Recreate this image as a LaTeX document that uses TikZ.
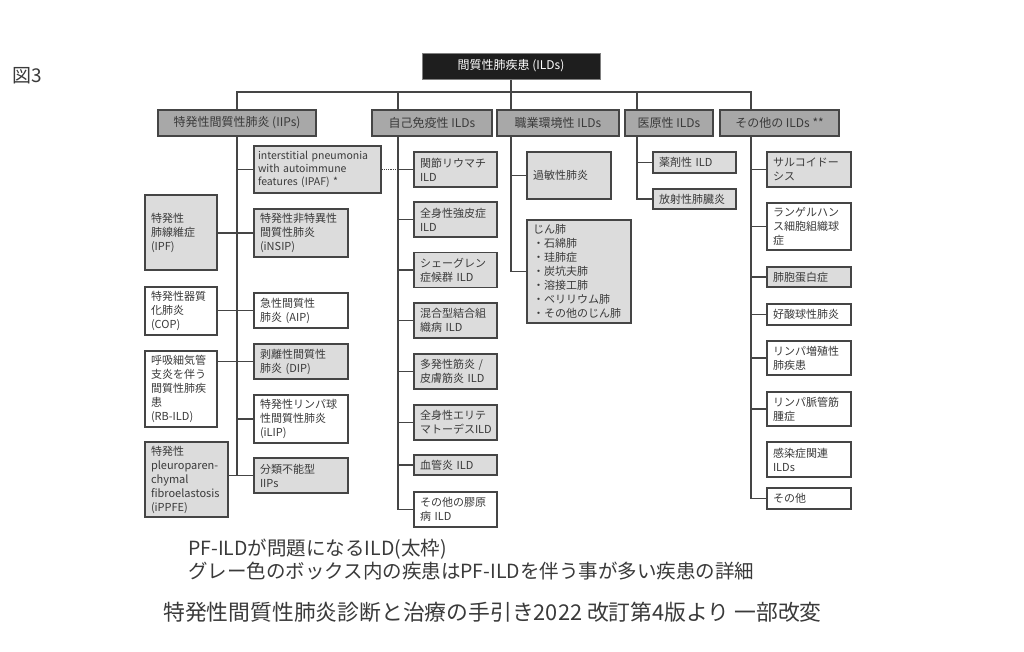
\documentclass[tikz,border=0pt]{standalone}
\usepackage{fontspec}
\setmainfont{Noto Sans CJK JP}
\usetikzlibrary{calc}
\definecolor{ink}{HTML}{3A3A3A}
\definecolor{linegray}{HTML}{454545}
\definecolor{boxgray}{HTML}{DCDCDC}
\definecolor{catgray}{HTML}{A8A8A8}
\definecolor{topblack}{HTML}{1E1E1E}

\begin{document}
\begin{tikzpicture}[x=1pt,y=-1pt,
    conn/.style={draw=linegray,line width=1.2pt},
    topbox/.style={draw=gray,line width=1pt,fill=topblack,text=white,minimum height=26pt,inner sep=0pt,font=\fontsize{12}{14}\selectfont},
    catbox/.style={draw=linegray,line width=2.4pt,fill=catgray,text=ink,minimum height=26pt,inner sep=0pt,font=\fontsize{12}{14}\selectfont},
    leaf/.style={draw=linegray,line width=1.1pt,fill=white,text=ink,align=left,inner xsep=6pt,inner ysep=0pt,text width=#1pt,font=\fontsize{11}{14}\selectfont},
    gleaf/.style={leaf=#1,fill=boxgray},
    note/.style={anchor=west,text=ink,inner sep=0pt}]
            \useasboundingbox (0,0) rectangle (1024,651);
            \node[topbox,minimum width=178pt] (ILDs) at (511,66) {間質性肺疾患 (ILDs)};
            \node[catbox,minimum width=158pt] (IIPs) at (237,123) {特発性間質性肺炎 (IIPs)};
            \node[catbox,minimum width=120pt] (AutoILD) at (432,123) {自己免疫性 ILDs};
            \node[catbox,minimum width=122pt] (OccILD) at (558,123) {職業環境性 ILDs};
            \node[catbox,minimum width=88pt] (IatroILD) at (669,123) {医原性 ILDs};
            \node[catbox,minimum width=119pt] (OtherILD) at (779.5,123) {その他の ILDs **};
            \coordinate (BusIIPs) at (237,92);
            \coordinate (BusAuto) at (398,92);
            \coordinate (BusOcc) at (511,92);
            \coordinate (BusIatro) at (637,92);
            \coordinate (BusOther) at (751,92);
            \node[gleaf=119,inner xsep=4pt,minimum height=47pt,font=\fontsize{10.5}{13}\selectfont] (IPAF) at (317.5,169.5) {interstitial pneumonia\\with autoimmune\\features (IPAF) *};
            \node[gleaf=82,minimum height=48pt] (INSIP) at (301,233) {特発性非特異性\\間質性肺炎\\(iNSIP)};
            \node[leaf=82,minimum height=35pt] (AIP) at (301,310.5) {急性間質性\\肺炎 (AIP)};
            \node[gleaf=82,minimum height=35pt] (DIP) at (301,361.5) {剥離性間質性\\肺炎 (DIP)};
            \node[leaf=82,minimum height=48pt] (ILIP) at (301,419) {特発性リンパ球\\性間質性肺炎\\(iLIP)};
            \node[gleaf=82,minimum height=35pt] (UncIIPs) at (301,475.5) {分類不能型\\IIPs};
            \node[gleaf=60,minimum height=75pt] (IPF) at (181,232.5) {特発性\\肺線維症\\(IPF)};
            \node[leaf=60,minimum height=48pt] (COP) at (181,311) {特発性器質\\化肺炎\\(COP)};
            \node[leaf=60,minimum height=76pt] (RBILD) at (181,389) {呼吸細気管\\支炎を伴う\\間質性肺疾\\患\\(RB-ILD)};
            \node[gleaf=71,minimum height=75pt] (IPPFE) at (186.5,479.5) {特発性\\pleuroparen-\\chymal\\fibroelastosis\\(iPPFE)};
            \node[gleaf=71,minimum height=35pt] (RAILD) at (455.5,169.5) {関節リウマチ\\ILD};
            \node[gleaf=71,minimum height=35pt] (SScILD) at (455.5,219.5) {全身性強皮症\\ILD};
            \node[gleaf=71,minimum height=35pt] (SjSILD) at (455.5,270) {シェーグレン\\症候群 ILD};
            \node[gleaf=71,minimum height=35pt] (MCTDILD) at (455.5,320.5) {混合型結合組\\織病 ILD};
            \node[gleaf=71,minimum height=35pt] (PMDMILD) at (455.5,371.5) {多発性筋炎 /\\皮膚筋炎 ILD};
            \node[gleaf=71,minimum height=35pt] (SLEILD) at (455.5,422.5) {全身性エリテ\\マトーデスILD};
            \node[gleaf=71,minimum height=20pt] (VasILD) at (455.5,465) {血管炎 ILD};
            \node[leaf=71,minimum height=35pt] (CTDILD) at (455.5,509.5) {その他の膠原\\病 ILD};
            \node[gleaf=72,minimum height=47pt] (HP) at (569,175.5) {過敏性肺炎};
            \node[gleaf=92,minimum height=103pt] (Pneumo) at (579,271.5) {じん肺\\・石綿肺\\・珪肺症\\・炭坑夫肺\\・溶接工肺\\・ベリリウム肺\\・その他のじん肺};
            \node[gleaf=71,minimum height=21pt] (DrugILD) at (694.5,162.5) {薬剤性 ILD};
            \node[gleaf=71,minimum height=20pt] (RadPn) at (694.5,199) {放射性肺臓炎};
            \node[gleaf=72,minimum height=35pt] (Sarc) at (809,169.5) {サルコイドー\\シス};
            \node[leaf=72,minimum height=47pt] (LCH) at (809,226.5) {ランゲルハン\\ス細胞組織球\\症};
            \node[gleaf=72,minimum height=20pt] (PAP) at (809,277) {肺胞蛋白症};
            \node[leaf=72,minimum height=21pt] (EosPn) at (809,314.5) {好酸球性肺炎};
            \node[leaf=72,minimum height=34pt] (LPD) at (809,358) {リンパ増殖性\\肺疾患};
            \node[leaf=72,minimum height=34pt] (LAM) at (809,409) {リンパ脈管筋\\腫症};
            \node[leaf=72,minimum height=35pt] (InfILD) at (809,459.5) {感染症関連\\ILDs};
            \node[leaf=72,minimum height=21pt] (OtherEtc) at (809,498.5) {その他};
            \draw[conn] (ILDs.south) -- (ILDs.south |- OccILD.north);
            \draw[conn] (IIPs.north) -- (BusIIPs) -- (BusOther) -- (BusOther |- OtherILD.north);
            \draw[conn] (BusAuto) -- (BusAuto |- AutoILD.north);
            \draw[conn] (BusIatro) -- (BusIatro |- IatroILD.north);
            \draw[conn] (IIPs.south) -- (IIPs.south |- UncIIPs.west);
            \draw[conn] (IIPs.south |- IPAF.west) -- (IPAF.west);
            \draw[conn] (IPF.east |- INSIP.west) -- (INSIP.west);
            \draw[conn] (COP.east |- AIP.west) -- (AIP.west);
            \draw[conn] (RBILD.east |- DIP.west) -- (DIP.west);
            \draw[conn] (IIPs.south |- ILIP.west) -- (ILIP.west);
            \draw[conn] (IPPFE.east |- UncIIPs.west) -- (UncIIPs.west);
            \draw[conn,densely dotted] (IPAF.east) -- (IPAF.east -| BusAuto);
            \draw[conn] (AutoILD.south -| BusAuto) |- (CTDILD.west);
            \draw[conn] (RAILD.west -| BusAuto) -- (RAILD.west);
            \draw[conn] (SScILD.west -| BusAuto) -- (SScILD.west);
            \draw[conn] (SjSILD.west -| BusAuto) -- (SjSILD.west);
            \draw[conn] (MCTDILD.west -| BusAuto) -- (MCTDILD.west);
            \draw[conn] (PMDMILD.west -| BusAuto) -- (PMDMILD.west);
            \draw[conn] (SLEILD.west -| BusAuto) -- (SLEILD.west);
            \draw[conn] (VasILD.west -| BusAuto) -- (VasILD.west);
            \draw[conn] (OccILD.south -| BusOcc) |- (Pneumo.west);
            \draw[conn] (HP.west -| BusOcc) -- (HP.west);
            \draw[conn] (IatroILD.south -| BusIatro) |- (RadPn.west);
            \draw[conn] (DrugILD.west -| BusIatro) -- (DrugILD.west);
            \draw[conn] (OtherILD.south -| BusOther) |- (OtherEtc.west);
            \draw[conn] (Sarc.west -| BusOther) -- (Sarc.west);
            \draw[conn] (LCH.west -| BusOther) -- (LCH.west);
            \draw[conn] (PAP.west -| BusOther) -- (PAP.west);
            \draw[conn] (EosPn.west -| BusOther) -- (EosPn.west);
            \draw[conn] (LPD.west -| BusOther) -- (LPD.west);
            \draw[conn] (LAM.west -| BusOther) -- (LAM.west);
            \node[note,font=\fontsize{19}{21}\selectfont] (FigNo) at (12,76) {図3};
            \node[note,font=\fontsize{19.5}{22}\selectfont] (NoteA) at (188,549) {PF-ILDが問題になるILD(太枠)};
            \node[note,font=\fontsize{19.5}{22}\selectfont] (NoteB) at (188,571) {グレー色のボックス内の疾患はPF-ILDを伴う事が多い疾患の詳細};
            \node[note,font=\fontsize{21.8}{24}\selectfont] (Source) at (163,612) {特発性間質性肺炎診断と治療の手引き2022 改訂第4版より 一部改変};
        \end{tikzpicture}
\end{document}
